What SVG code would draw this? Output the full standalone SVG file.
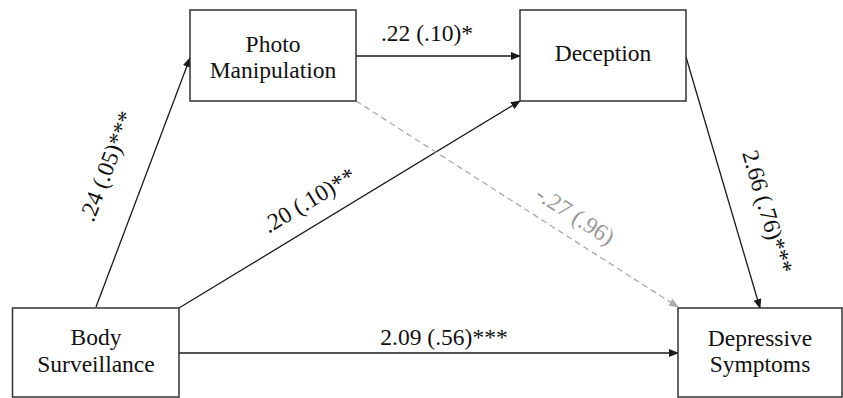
<svg xmlns="http://www.w3.org/2000/svg" width="843" height="398" viewBox="0 0 843 398">
<style>
.box{fill:#fff;stroke:#333;stroke-width:1.5}
.t{font-family:'Liberation Serif','DejaVu Serif',serif;font-size:23.5px;fill:#111;text-anchor:middle}
.g{fill:#999}
.ln{stroke:#1a1a1a;stroke-width:1.3;fill:none}
.dl{stroke:#aaa;stroke-width:1.3;fill:none;stroke-dasharray:6,4}
</style>
<defs>
<marker id="ah" markerWidth="10" markerHeight="8" refX="9" refY="4" orient="auto" markerUnits="userSpaceOnUse">
<path d="M0,0 L10,4 L0,8 Z" fill="#1a1a1a"/>
</marker>
<marker id="ahg" markerWidth="10" markerHeight="8" refX="9" refY="4" orient="auto" markerUnits="userSpaceOnUse">
<path d="M0,0 L10,4 L0,8 Z" fill="#aaa"/>
</marker>
</defs>
<rect width="843" height="398" fill="#fff"/>
<g id="connectors" font-family="Liberation Serif, serif">
<line class="ln" x1="96" y1="307" x2="190" y2="58" marker-end="url(#ah)"/>
<line class="ln" x1="356" y1="56" x2="520" y2="56" marker-end="url(#ah)"/>
<line class="ln" x1="179" y1="308" x2="520" y2="101" marker-end="url(#ah)"/>
<line class="dl" x1="356" y1="101" x2="678" y2="307" marker-end="url(#ahg)"/>
<line class="ln" x1="686" y1="57" x2="760" y2="308" marker-end="url(#ah)"/>
<line class="ln" x1="179" y1="353" x2="678" y2="353" marker-end="url(#ah)"/>
<text class="t" x="427" y="41">.22 (.10)*</text>
<text class="t" transform="translate(114,169) rotate(-69)">.24 (.05)***</text>
<text class="t" transform="translate(313,207) rotate(-31)">.20 (.10)**</text>
<text class="t g" transform="translate(571,222) rotate(33)">-.27 (.96)</text>
<text class="t" transform="translate(760,214) rotate(73.5)">2.66 (.76)***</text>
<text class="t" x="444" y="345">2.09 (.56)***</text>
</g>
<g id="photo">
<rect class="box" x="190" y="10" width="166" height="91"/>
<text class="t" x="273" y="52">Photo</text>
<text class="t" x="273" y="78">Manipulation</text>
</g>
<g id="deception">
<rect class="box" x="520" y="10" width="166" height="91"/>
<text class="t" x="603" y="61">Deception</text>
</g>
<g id="body">
<rect class="box" x="12.5" y="308" width="166.5" height="89"/>
<text class="t" x="96" y="345">Body</text>
<text class="t" x="96" y="372">Surveillance</text>
</g>
<g id="depressive">
<rect class="box" x="678" y="308" width="164" height="89"/>
<text class="t" x="760" y="346">Depressive</text>
<text class="t" x="760" y="372">Symptoms</text>
</g>
</svg>
